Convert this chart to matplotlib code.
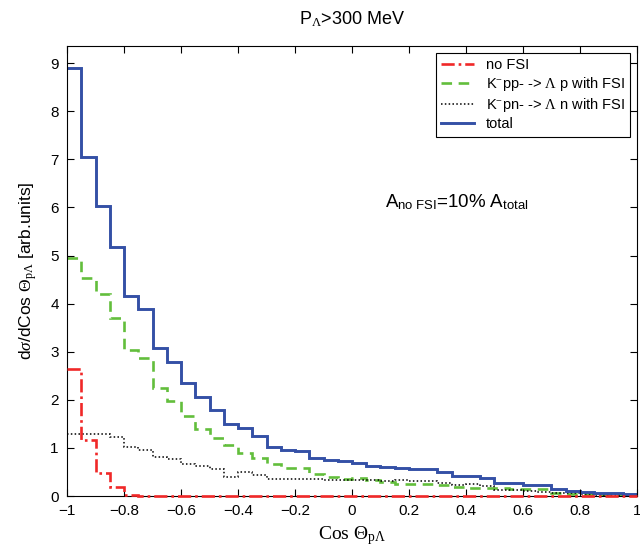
import numpy as np
import matplotlib
matplotlib.use("Agg")
import matplotlib.pyplot as plt

plt.rcParams['font.family'] = ['Liberation Sans', 'DejaVu Sans']
plt.rcParams['mathtext.fontset'] = 'custom'
plt.rcParams['mathtext.rm'] = 'Liberation Serif'
plt.rcParams['mathtext.it'] = 'Liberation Serif:italic'
plt.rcParams['mathtext.sf'] = 'Liberation Sans'

# bin edges of cos(theta_pLambda), 40 bins
edges = np.linspace(-1.0, 1.0, 41)

# no FSI
no_fsi = [2.64, 1.17, 0.47, 0.18, 0.03] + [0.0] * 35

# K-pp --> Lambda p with FSI
kpp = [4.94, 4.54, 4.20, 3.70, 3.04, 2.88, 2.25, 1.98, 1.67, 1.39,
       1.21, 1.06, 0.90, 0.80, 0.66, 0.58, 0.58, 0.45, 0.40, 0.36,
       0.38, 0.33, 0.29, 0.26, 0.25, 0.25, 0.23, 0.18, 0.17, 0.16,
       0.16, 0.15, 0.14, 0.14, 0.07, 0.05, 0.04, 0.03, 0.03, 0.02]

# K-pn --> Lambda n with FSI
kpn = [1.29, 1.30, 1.30, 1.22, 1.03, 0.95, 0.81, 0.78, 0.67, 0.62,
       0.56, 0.40, 0.50, 0.43, 0.36, 0.35, 0.35, 0.35, 0.33, 0.34,
       0.33, 0.33, 0.31, 0.33, 0.31, 0.31, 0.28, 0.24, 0.25, 0.21,
       0.12, 0.12, 0.10, 0.09, 0.07, 0.06, 0.05, 0.03, 0.03, 0.03]

# total
total = [8.90, 7.04, 6.02, 5.17, 4.16, 3.88, 3.07, 2.79, 2.36, 2.06,
         1.79, 1.49, 1.42, 1.25, 1.02, 0.96, 0.93, 0.80, 0.74, 0.72,
         0.69, 0.62, 0.60, 0.59, 0.56, 0.56, 0.51, 0.42, 0.42, 0.37,
         0.28, 0.27, 0.24, 0.23, 0.14, 0.11, 0.09, 0.06, 0.06, 0.05]

fig = plt.figure(figsize=(6.4, 5.5), dpi=100)
ax = fig.add_axes([0.105, 0.098, 0.89, 0.818])

ax.stairs(no_fsi, edges, baseline=None, color='#f02828', linestyle=(0, (5, 1.5, 1, 1.5)),
          linewidth=1.9, label='no FSI', clip_on=False, zorder=4)
ax.stairs(kpp, edges, baseline=None, color='#62be3c', linestyle=(0, (4, 2.5)), linewidth=1.9,
          label='K$^{-}$pp- -> $\\Lambda$ p with FSI')
ax.stairs(kpn, edges, baseline=None, color='k', linestyle=(0, (1, 1.5)), linewidth=1.1,
          label='K$^{-}$pn- -> $\\Lambda$ n with FSI')
ax.stairs(total, edges, baseline=None, color='#3450a6', linestyle='-', linewidth=2.1, label='total')

ax.set_xlim(-1, 1)
ax.set_ylim(0, 9.35)
ax.set_xticks(np.arange(-1, 1.01, 0.2))
ax.set_xticklabels(['\u22121', '\u22120.8', '\u22120.6', '\u22120.4', '\u22120.2', '0',
                    '0.2', '0.4', '0.6', '0.8', '1'])
ax.set_yticks(range(0, 10))
ax.tick_params(direction='in', top=True, right=True, length=5, labelsize=11, pad=6)
for s in ax.spines.values():
    s.set_linewidth(0.8)

ax.set_title(r'P$_{\Lambda}$>300 MeV', fontsize=13, pad=16)
ax.set_xlabel(r'Cos $\Theta_{\mathrm{p}\Lambda}$', fontsize=14, family='Liberation Serif')
ax.set_ylabel(r'd$\sigma$/dCos $\Theta_{\mathrm{p}\Lambda}$ [arb.units]', fontsize=12.5, labelpad=8)

ax.text(0.116, 6.0, r'A$_{\mathsf{no\ FSI}}$=10% A$_{\mathsf{total}}$', fontsize=13.5, va='baseline')

leg = ax.legend(loc='upper right', fontsize=10.5, fancybox=False, framealpha=1,
                edgecolor='k', handlelength=2.3, borderaxespad=0.45, labelspacing=0.22,
                borderpad=0.35)
leg.get_frame().set_linewidth(0.8)

fig.savefig('out.png', dpi=100)
